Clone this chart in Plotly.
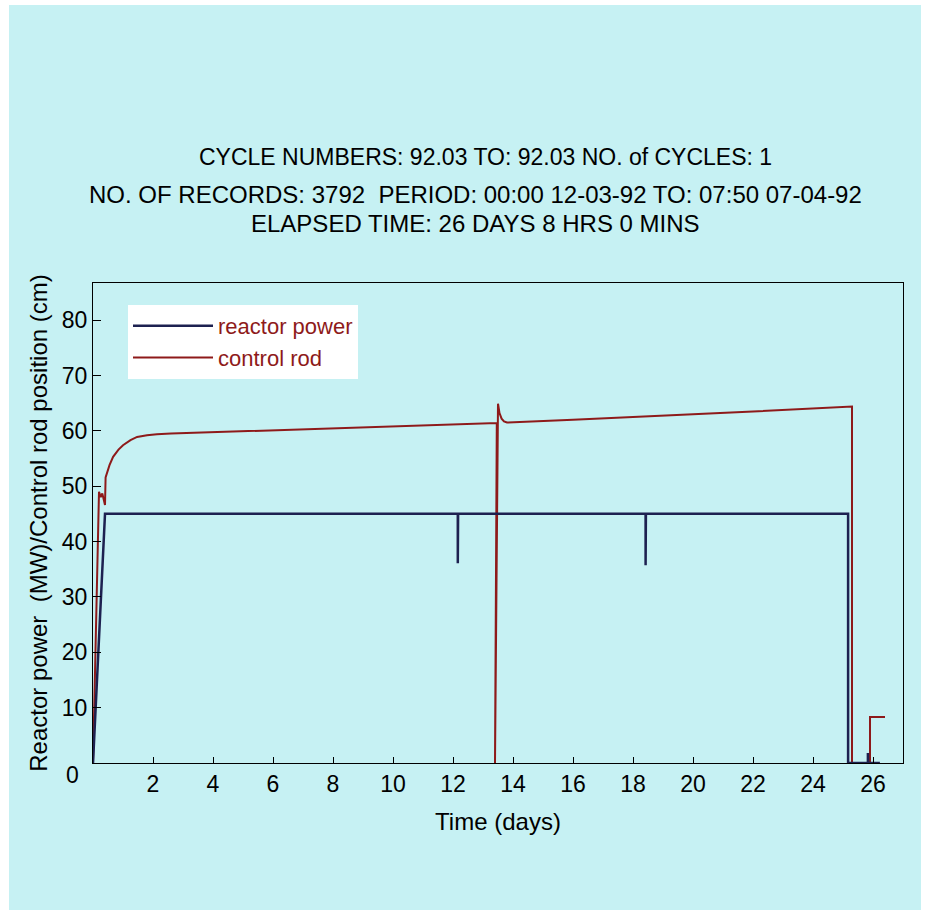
import plotly.graph_objects as go

# ---- data ----
power_t = [0, 0.4, 12.16, 12.16, 12.17, 18.42, 18.42, 18.43, 25.17, 25.17, 25.83, 25.83, 25.84, 26.23]
power_v = [0, 45, 45, 36.1, 45, 45, 35.7, 45, 45, 0, 0, 1.8, 0, 0]

rod_t = [0, 0.2, 0.26, 0.31, 0.4, 0.42, 0.55, 0.67, 0.85, 1.0, 1.25, 1.47, 1.8, 2.13, 2.6,
         5.0, 8.0, 11.0, 13.46, 13.40, 13.50, 13.55, 13.62, 13.7, 13.8,
         16.0, 19.0, 22.0, 25.3, 25.3, 25.9, 25.9, 26.4]
rod_v = [0, 49.0, 48.0, 48.7, 46.6, 51.6, 53.8, 55.3, 56.6, 57.4, 58.3, 58.9, 59.2, 59.4, 59.5,
         59.9, 60.4, 60.9, 61.4, 0, 64.9, 63.2, 62.2, 61.7, 61.5,
         62.0, 62.7, 63.5, 64.4, 0, 0, 8.3, 8.3]

x_ticks = [2, 4, 6, 8, 10, 12, 14, 16, 18, 20, 22, 24, 26]
y_ticks = [10, 20, 30, 40, 50, 60, 70, 80]

title_lines = [
    "CYCLE NUMBERS: 92.03 TO: 92.03 NO. of CYCLES: 1",
    "NO. OF RECORDS: 3792  PERIOD: 00:00 12-03-92 TO: 07:50 07-04-92",
    "ELAPSED TIME: 26 DAYS 8 HRS 0 MINS",
]

NAVY = "#1d2150"
RED = "#8e1a1a"
CYAN = "#c6f1f3"
FONT = "Liberation Sans, Arial, sans-serif"

fig = go.Figure()
fig.add_trace(go.Scatter(x=rod_t, y=rod_v, mode="lines", name="control rod",
                         line=dict(color=RED, width=2)))
fig.add_trace(go.Scatter(x=power_t, y=power_v, mode="lines", name="reactor power",
                         line=dict(color=NAVY, width=2.5)))

# background panel with thin white border
fig.add_shape(type="rect", xref="paper", yref="paper",
              x0=(9 - 93) / 810, x1=(921 - 93) / 810,
              y0=(763 - 910) / 480, y1=(763 - 5) / 480,
              fillcolor=CYAN, line=dict(width=0), layer="below")

ys = [157, 194, 223]
xs = [485, 475, 475]
sizes = [23, 24, 24]
for txt, yy, xx, sz in zip(title_lines, ys, xs, sizes):
    fig.add_annotation(text=txt, xref="paper", yref="paper",
                       x=(xx - 93) / 810, y=(763 - yy) / 480,
                       xanchor="center", yanchor="middle", showarrow=False,
                       font=dict(family=FONT, size=sz, color="black"))

# stray zero label at the origin
fig.add_annotation(text="0", xref="paper", yref="paper",
                   x=(72 - 93) / 810, y=(763 - 775) / 480,
                   xanchor="center", yanchor="middle", showarrow=False,
                   font=dict(family=FONT, size=23, color="black"))

fig.update_layout(
    width=930, height=915,
    margin=dict(l=93, r=27, t=283, b=152),
    paper_bgcolor="white",
    plot_bgcolor="rgba(0,0,0,0)",
    font=dict(family=FONT, size=23, color="black"),
    showlegend=True,
    legend=dict(x=(128 - 93) / 810, y=(763 - 305) / 480, xanchor="left", yanchor="top",
                bgcolor="white", font=dict(family=FONT, size=22, color=RED),
                itemwidth=80, tracegroupgap=0, traceorder="reversed"),
    xaxis=dict(range=[0, 27], tickvals=x_ticks, ticktext=[str(v) for v in x_ticks],
               ticks="inside", ticklen=6, tickcolor="black", tickwidth=1,
               showline=True, linecolor="black", linewidth=1, mirror=True,
               showgrid=False, zeroline=False,
               title=dict(text="Time (days)", standoff=17, font=dict(size=24))),
    yaxis=dict(range=[0, 86.7], tickvals=y_ticks, ticktext=[str(v) for v in y_ticks],
               ticks="inside", ticklen=8, tickcolor="black", tickwidth=1,
               showline=True, linecolor="black", linewidth=1, mirror=True,
               showgrid=False, zeroline=False,
               title=dict(text="Reactor power  (MW)/Control rod position (cm)", standoff=7,
                          font=dict(size=24))),
)

fig.write_html("out.html")
